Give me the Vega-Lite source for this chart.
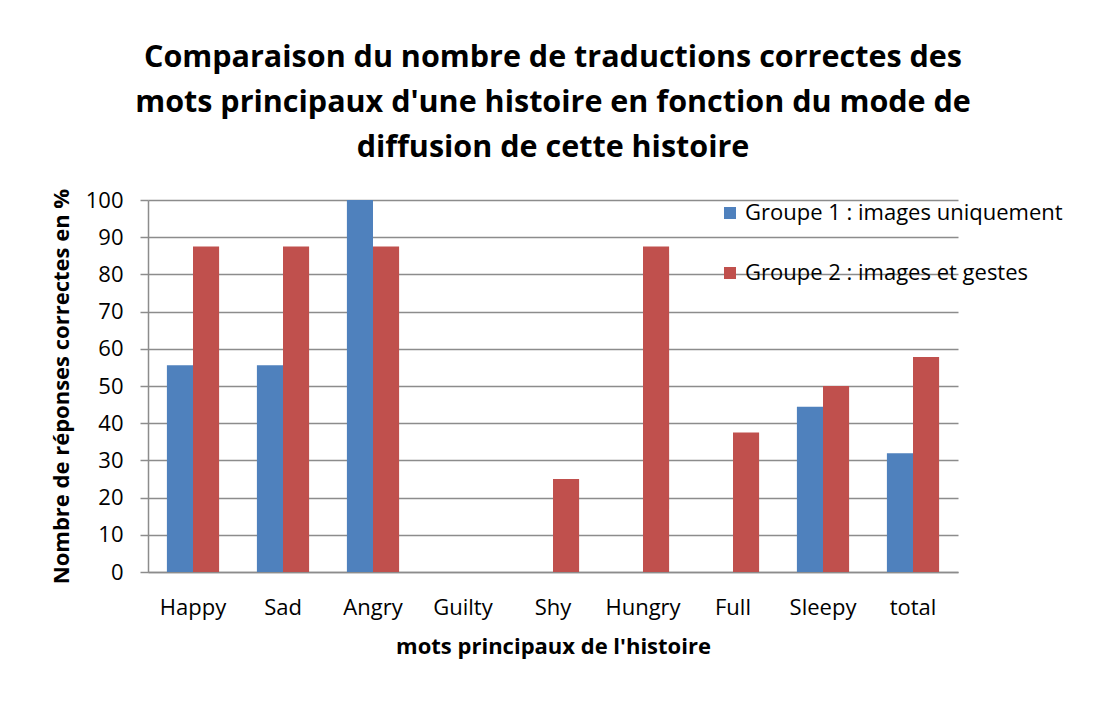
{
  "$schema": "https://vega.github.io/schema/vega-lite/v6.json",
  "autosize": "none",
  "width": 810,
  "height": 372,
  "padding": {"left": 148, "top": 200, "right": 155, "bottom": 153},
  "background": "white",
  "title": {
    "text": ["Comparaison du nombre de traductions correctes des", "mots principaux d'une histoire en fonction du mode de", "diffusion de cette histoire"],
    "font": "Open Sans",
    "fontSize": 30.5,
    "fontWeight": "bold",
    "color": "#000000",
    "lineHeight": 45,
    "anchor": "middle",
    "offset": 25
  },
  "data": {
    "values": [
      {"mot": "Happy", "groupe": "Groupe 1 : images uniquement", "valeur": 55.6},
      {"mot": "Happy", "groupe": "Groupe 2 : images et gestes", "valeur": 87.5},
      {"mot": "Sad", "groupe": "Groupe 1 : images uniquement", "valeur": 55.6},
      {"mot": "Sad", "groupe": "Groupe 2 : images et gestes", "valeur": 87.5},
      {"mot": "Angry", "groupe": "Groupe 1 : images uniquement", "valeur": 100},
      {"mot": "Angry", "groupe": "Groupe 2 : images et gestes", "valeur": 87.5},
      {"mot": "Guilty", "groupe": "Groupe 1 : images uniquement", "valeur": 0},
      {"mot": "Guilty", "groupe": "Groupe 2 : images et gestes", "valeur": 0},
      {"mot": "Shy", "groupe": "Groupe 1 : images uniquement", "valeur": 0},
      {"mot": "Shy", "groupe": "Groupe 2 : images et gestes", "valeur": 25},
      {"mot": "Hungry", "groupe": "Groupe 1 : images uniquement", "valeur": 0},
      {"mot": "Hungry", "groupe": "Groupe 2 : images et gestes", "valeur": 87.5},
      {"mot": "Full", "groupe": "Groupe 1 : images uniquement", "valeur": 0},
      {"mot": "Full", "groupe": "Groupe 2 : images et gestes", "valeur": 37.5},
      {"mot": "Sleepy", "groupe": "Groupe 1 : images uniquement", "valeur": 44.4},
      {"mot": "Sleepy", "groupe": "Groupe 2 : images et gestes", "valeur": 50},
      {"mot": "total", "groupe": "Groupe 1 : images uniquement", "valeur": 31.9},
      {"mot": "total", "groupe": "Groupe 2 : images et gestes", "valeur": 57.8}
    ]
  },
  "mark": {"type": "bar"},
  "encoding": {
    "x": {
      "field": "mot",
      "type": "nominal",
      "sort": ["Happy", "Sad", "Angry", "Guilty", "Shy", "Hungry", "Full", "Sleepy", "total"],
      "scale": {"paddingInner": 0.42, "paddingOuter": 0.21},
      "axis": {
        "title": "mots principaux de l'histoire",
        "titleFont": "Open Sans",
        "titleFontSize": 22,
        "titleFontWeight": "bold",
        "titleColor": "#000000",
        "titlePadding": 18,
        "labelAngle": 0,
        "labelFont": "Open Sans",
        "labelFontSize": 22,
        "labelColor": "#000000",
        "labelPadding": 25,
        "ticks": false,
        "domainColor": "#8c8c8c",
        "domainWidth": 1.5,
        "grid": false
      }
    },
    "xOffset": {"field": "groupe", "type": "nominal", "scale": {"paddingInner": 0, "paddingOuter": 0}},
    "y": {
      "field": "valeur",
      "type": "quantitative",
      "scale": {"domain": [0, 100], "nice": false},
      "axis": {
        "title": "Nombre de réponses correctes en %",
        "titleFont": "Open Sans",
        "titleFontSize": 22,
        "titleFontWeight": "bold",
        "titleColor": "#000000",
        "titlePadding": 12,
        "values": [0, 10, 20, 30, 40, 50, 60, 70, 80, 90, 100],
        "labelFont": "Open Sans",
        "labelFontSize": 22,
        "labelColor": "#000000",
        "labelPadding": 17,
        "tickSize": 8,
        "tickColor": "#8c8c8c",
        "tickWidth": 1.5,
        "domainColor": "#8c8c8c",
        "domainWidth": 1.5,
        "grid": true,
        "gridColor": "#8c8c8c",
        "gridWidth": 1.5
      }
    },
    "color": {
      "field": "groupe",
      "type": "nominal",
      "scale": {"domain": ["Groupe 1 : images uniquement", "Groupe 2 : images et gestes"], "range": ["#4F81BD", "#C0504D"]},
      "legend": {
        "title": null,
        "orient": "none",
        "legendX": 571,
        "legendY": 2,
        "symbolType": "square",
        "symbolSize": 144,
        "symbolStrokeWidth": 0,
        "labelFont": "Open Sans",
        "labelFontSize": 22,
        "labelColor": "#000000",
        "labelLimit": 0,
        "rowPadding": 38,
        "labelOffset": 4
      }
    }
  },
  "config": {
    "view": {"stroke": null},
    "bar": {"stroke": null}
  }
}
